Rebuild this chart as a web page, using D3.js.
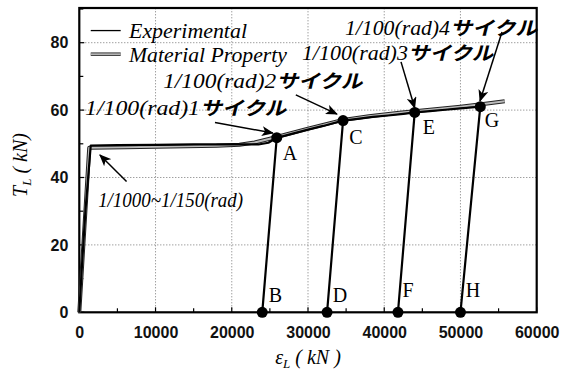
<!DOCTYPE html>
<html><head><meta charset="utf-8">
<script src="https://cdn.jsdelivr.net/npm/d3@7"></script>
<style>
html,body{margin:0;padding:0;background:#fff;}
svg{display:block;}
</style></head>
<body>
<svg id="c" width="573" height="376"></svg>
<script>
// ---- data ----
const xTicks = [0,10000,20000,30000,40000,50000,60000];
const yTicks = [0,20,40,60,80];
const xMinor = [5000,15000,25000,35000,45000,55000];
const yMinor = [10,30,50,70,90];
// Experimental curve [strain, load]
const experimental = [
 [0,0],[300,12],[800,30],[1500,49.5],[5000,49.6],[10000,49.7],[15000,49.8],[20000,49.8],[23500,49.8],[24800,50.3],[25900,51.8],
 [24000,0],[25900,51.8],
 [28000,53.0],[30000,54.2],[32000,55.3],[34600,56.9],
 [32500,0],[34600,56.9],
 [36500,57.4],[38500,58.0],[40500,58.4],[42500,58.9],[44000,59.3],
 [41800,0],[44000,59.3],
 [46000,59.7],[48000,60.1],[50000,60.5],[52600,61.0],
 [50000,0]
];
// Material property curve
const material = [
 [0,0],[1300,48.8],[6000,49.0],[12000,49.2],[18000,49.4],[21000,49.7],[23000,50.4],[25000,51.5],[27000,52.7],
 [30000,54.5],[34600,57.1],[38000,58.2],[42000,59.2],[46000,60.1],[50000,61.0],[53000,61.8],[55800,62.6]
];
const peakPts = [[25900,51.8],[34600,56.9],[44000,59.3],[52600,61.0]];
const basePts = [[24000,0],[32500,0],[41800,0],[50000,0]];
const letters = ["A","C","E","G","B","D","F","H"];
const letterPos = [[27640,47.4],[36300,52.0],[45870,55.1],[54140,57.1],[25740,5.1],[34200,5.1],[43120,6.6],[51650,6.6]];
const annLatin = ["1/100(rad)1","1/100(rad)2","1/100(rad)3","1/100(rad)4","1/1000~1/150(rad)"];
const annKana = ["サイクル","サイクル","サイクル","サイクル",""];
const annPos = [[750,60.6],[11000,68.6],[29200,76.9],[34850,84.4],[2470,33.3]];
const annLatinWidth = [115,113,106,105,145];
const annKanaWidth = [86,86,85,87,0];
const arrows = [
 [[17800,56.3],[25400,53.2]],
 [[28400,64.5],[33800,58.8]],
 [[42200,74.3],[44000,60.6]],
 [[55450,83.2],[52560,62.7]],
 [[6200,38.8],[2700,46.7]]
];
const legendNames = ["Experimental","Material Property"];
const legendY = [83.6,76.6];
const legendWidth = [118,158];

// ---- scales ----
const svg = d3.select("#c");
const x = d3.scaleLinear().domain([0,60000]).range([79.3,536.7]);
const y = d3.scaleLinear().domain([0,90]).range([312.3,9]);
const serif = "'Liberation Serif','Times New Roman',serif";

// grid
const g = svg.append("g");
g.selectAll(".gx").data(xTicks.slice(1,-1)).join("line")
 .attr("x1",d=>x(d)).attr("x2",d=>x(d)).attr("y1",y(0)).attr("y2",y(90))
 .attr("stroke","#777").attr("stroke-width",1).attr("stroke-dasharray","1,2");
g.selectAll(".gy").data(yTicks.slice(1)).join("line")
 .attr("y1",d=>y(d)).attr("y2",d=>y(d)).attr("x1",x(0)).attr("x2",x(60000))
 .attr("stroke","#777").attr("stroke-width",1).attr("stroke-dasharray","1,2");

// axes
const xAxis = d3.axisBottom(x).tickValues(xTicks).tickSize(0).tickPadding(14).tickFormat(d3.format("d"));
const yAxis = d3.axisLeft(y).tickValues(yTicks).tickSize(0).tickPadding(11);
const ax = svg.append("g").attr("transform",`translate(0,${y(0)})`).call(xAxis);
const ay = svg.append("g").attr("transform",`translate(${x(0)},0)`).call(yAxis);
[ax,ay].forEach(a=>{a.select(".domain").remove();
 a.selectAll("text").attr("font-family","'Liberation Sans',Arial,sans-serif").attr("font-size",16).attr("font-weight","bold").attr("fill","#111");});
// inward ticks
svg.append("g").selectAll("line").data(xTicks.concat(xMinor)).join("line")
 .attr("x1",d=>x(d)).attr("x2",d=>x(d)).attr("y1",y(0)).attr("y2",d=>y(0)-(d%10000===0?5:4))
 .attr("stroke","#000").attr("stroke-width",1.2);
svg.append("g").selectAll("line").data(yTicks.concat(yMinor)).join("line")
 .attr("y1",d=>y(d)).attr("y2",d=>y(d)).attr("x1",x(0)).attr("x2",d=>x(0)+(d%20===0?5:4))
 .attr("stroke","#000").attr("stroke-width",1.2);

// frame
svg.append("rect").attr("x",x(0)).attr("y",y(90)-1).attr("width",x(60000)-x(0)).attr("height",y(0)-y(90)+1)
 .attr("fill","none").attr("stroke","#000").attr("stroke-width",2.2);

// curves
const line = d3.line().x(d=>x(d[0])).y(d=>y(d[1]));
svg.append("path").datum(material).attr("d",line).attr("fill","none").attr("stroke","#222").attr("stroke-width",4).attr("stroke-linejoin","round");
svg.append("path").datum(material).attr("d",line).attr("fill","none").attr("stroke","#bbb").attr("stroke-width",2).attr("stroke-linejoin","round");
svg.append("path").datum(experimental).attr("d",line).attr("fill","none").attr("stroke","#000").attr("stroke-width",2.2).attr("stroke-linejoin","round");

// dots
svg.append("g").selectAll("circle").data(peakPts.concat(basePts)).join("circle")
 .attr("cx",d=>x(d[0])).attr("cy",d=>y(d[1])).attr("r",5.5).attr("fill","#000");

// letters
svg.append("g").selectAll("text").data(letters).join("text")
 .attr("x",(d,i)=>x(letterPos[i][0])).attr("y",(d,i)=>y(letterPos[i][1])).attr("dy","0.35em")
 .attr("text-anchor","middle").attr("font-family",serif).attr("font-size",20)
 .text(d=>d);

// arrows
const defs = svg.append("defs");
defs.append("marker").attr("id","ah").attr("viewBox","0 0 12 10").attr("refX",11).attr("refY",5)
 .attr("markerWidth",12).attr("markerHeight",10).attr("markerUnits","userSpaceOnUse").attr("orient","auto")
 .append("path").attr("d","M0,0 L12,5 L0,10 L3,5 Z").attr("fill","#000");
svg.append("g").selectAll("line").data(arrows).join("line")
 .attr("x1",d=>x(d[0][0])).attr("y1",d=>y(d[0][1])).attr("x2",d=>x(d[1][0])).attr("y2",d=>y(d[1][1]))
 .attr("stroke","#000").attr("stroke-width",1.5).attr("marker-end","url(#ah)");

// annotations
annLatin.forEach((t,i)=>{
 const x0 = x(annPos[i][0]), y0 = y(annPos[i][1]);
 svg.append("text").attr("x",x0).attr("y",y0).attr("dy","0.35em")
  .attr("textLength",annLatinWidth[i]).attr("lengthAdjust","spacingAndGlyphs")
  .attr("font-family",serif).attr("font-style","italic").attr("font-size",20).text(t);
 if(annKana[i]){
  svg.append("text").attr("transform",`translate(${x0+annLatinWidth[i]+2},${y0}) skewX(-14)`).attr("dy","0.36em")
   .attr("textLength",annKanaWidth[i]).attr("lengthAdjust","spacingAndGlyphs")
   .attr("font-family","'Noto Sans CJK JP',sans-serif").attr("font-weight","bold").attr("font-size",19).text(annKana[i]);
 }
});

// legend
legendNames.forEach((n,i)=>{
 if(i===0){
  svg.append("line").attr("x1",x(1500)).attr("x2",x(5430)).attr("y1",y(legendY[i])).attr("y2",y(legendY[i])).attr("stroke","#000").attr("stroke-width",1.3);
 } else {
  svg.append("line").attr("x1",x(1500)).attr("x2",x(5430)).attr("y1",y(legendY[i])).attr("y2",y(legendY[i])).attr("stroke","#333").attr("stroke-width",3.5);
  svg.append("line").attr("x1",x(1500)).attr("x2",x(5430)).attr("y1",y(legendY[i])).attr("y2",y(legendY[i])).attr("stroke","#bbb").attr("stroke-width",1.6);
 }
 svg.append("text").attr("x",x(6520)).attr("y",y(legendY[i])).attr("dy","0.35em")
  .attr("textLength",legendWidth[i]).attr("lengthAdjust","spacingAndGlyphs")
  .attr("font-family",serif).attr("font-style","italic").attr("font-size",21).text(n);
});

// axis titles
const xt = svg.append("text").attr("x",(x(0)+x(60000))/2).attr("y",364).attr("text-anchor","middle")
 .attr("font-family",serif).attr("font-style","italic").attr("font-size",20);
xt.append("tspan").text("ε");
xt.append("tspan").attr("font-size",13).attr("dy",4).text("L");
xt.append("tspan").attr("dy",-4).text(" ( kN )");
const yt = svg.append("text").attr("transform","translate(27,165) rotate(-90)").attr("text-anchor","middle")
 .attr("font-family",serif).attr("font-style","italic").attr("font-size",20);
yt.append("tspan").text("T");
yt.append("tspan").attr("font-size",13).attr("dy",4).text("L");
yt.append("tspan").attr("dy",-4).text(" ( kN)");
</script>
</body></html>
